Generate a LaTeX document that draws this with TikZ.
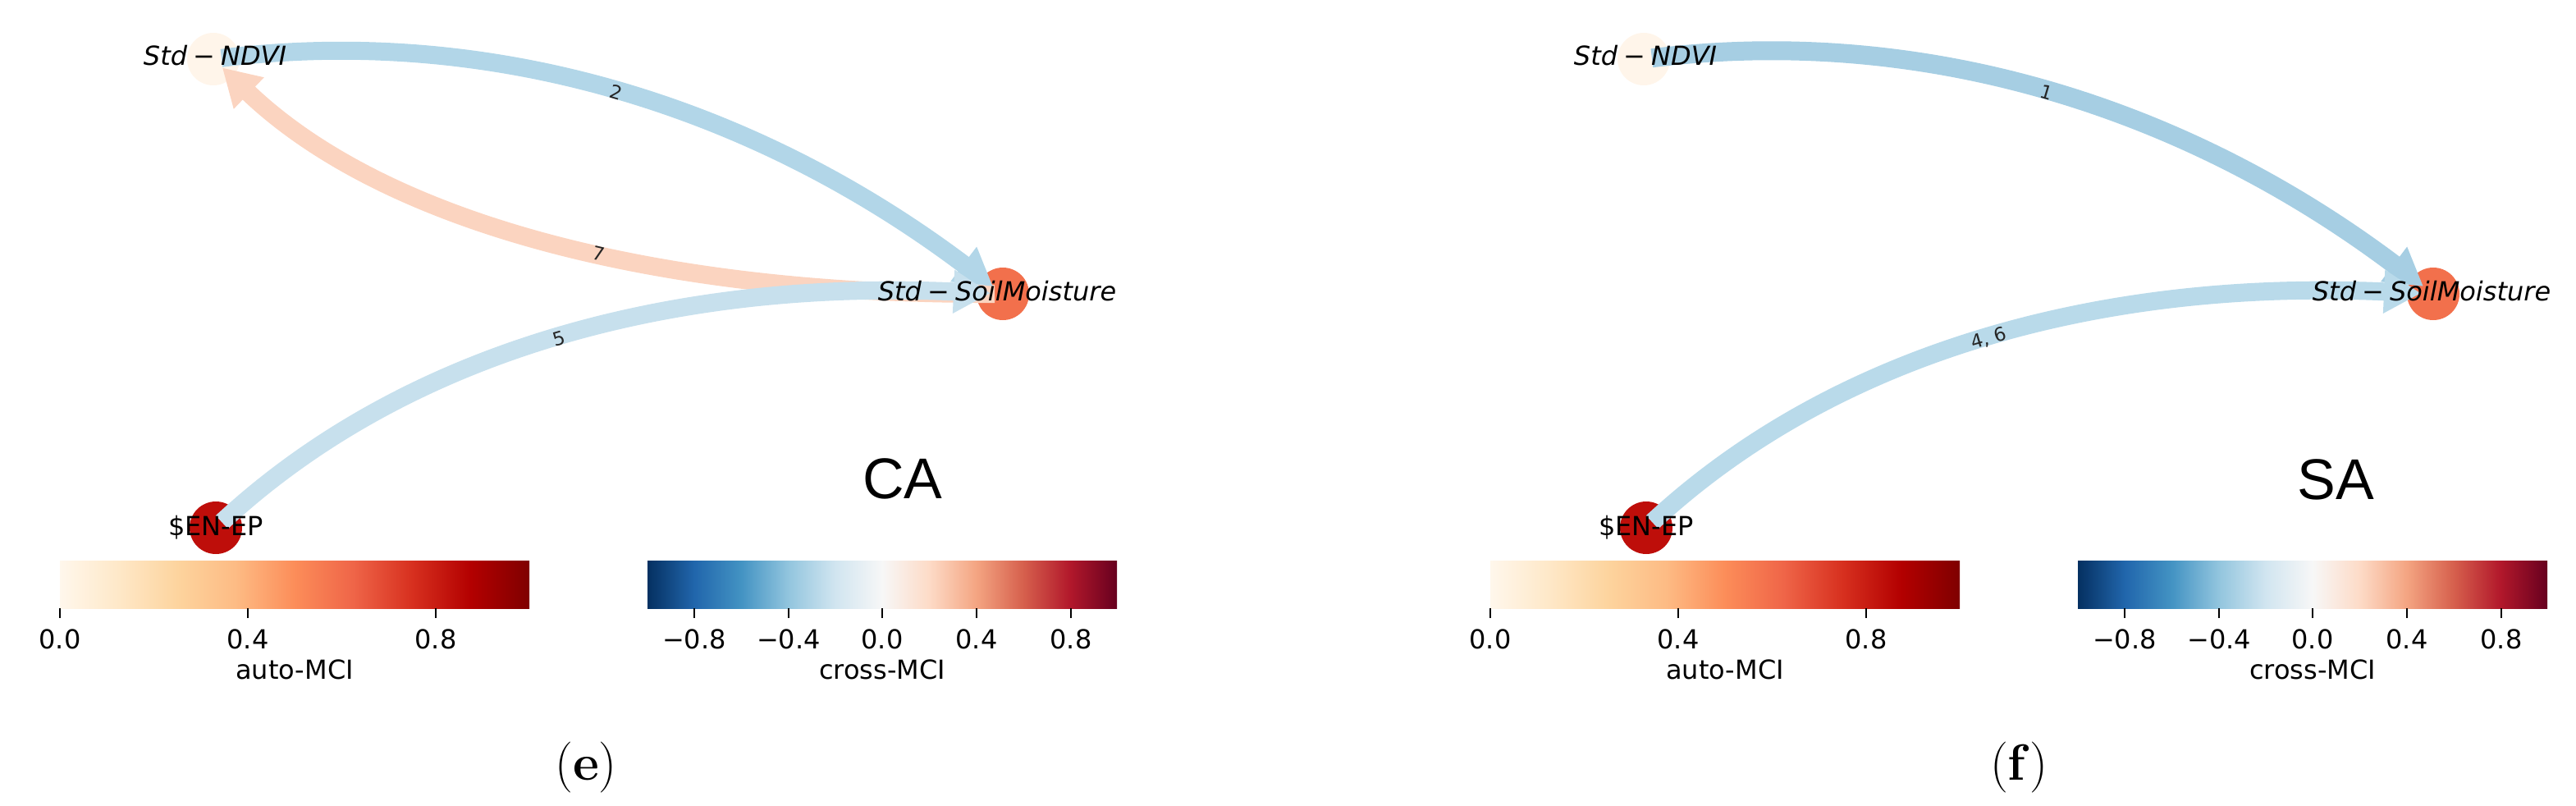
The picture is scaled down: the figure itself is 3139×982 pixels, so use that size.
\documentclass[tikz,border=0pt]{standalone}
\usepackage{fontspec}
\newfontfamily\dv{DejaVu Sans}
\newfontfamily\ars{Liberation Sans}
\usetikzlibrary{arrows.meta}
% OrRd
\definecolor{or0}{HTML}{FFF7EC}\definecolor{or1}{HTML}{FEE8C8}\definecolor{or2}{HTML}{FDD49E}
\definecolor{or3}{HTML}{FDBB84}\definecolor{or4}{HTML}{FC8D59}\definecolor{or5}{HTML}{EF6548}
\definecolor{or6}{HTML}{D7301F}\definecolor{or7}{HTML}{B30000}\definecolor{or8}{HTML}{7F0000}
% RdBu_r
\definecolor{rb0}{HTML}{053061}\definecolor{rb1}{HTML}{2166AC}\definecolor{rb2}{HTML}{4393C3}
\definecolor{rb3}{HTML}{92C5DE}\definecolor{rb4}{HTML}{D1E5F0}\definecolor{rb5}{HTML}{F7F7F7}
\definecolor{rb6}{HTML}{FDDBC7}\definecolor{rb7}{HTML}{F4A582}\definecolor{rb8}{HTML}{D6604D}
\definecolor{rb9}{HTML}{B2182B}\definecolor{rb10}{HTML}{67001F}
% nodes and edges
\definecolor{cndvi}{RGB}{255,245,234}
\definecolor{csoil}{RGB}{242,112,76}
\definecolor{cenep}{RGB}{190,14,10}
\definecolor{eblueA}{RGB}{178,214,232}
\definecolor{esalm}{RGB}{251,212,192}
\definecolor{eblueB}{RGB}{199,224,237}
\definecolor{eblueC}{RGB}{166,206,227}
\definecolor{eblueD}{RGB}{185,218,234}
\pgfdeclarehorizontalshading{orrd}{100bp}{color(0bp)=(or0); color(25bp)=(or0); color(31.25bp)=(or1); color(37.5bp)=(or2); color(43.75bp)=(or3); color(50bp)=(or4); color(56.25bp)=(or5); color(62.5bp)=(or6); color(68.75bp)=(or7); color(75bp)=(or8); color(100bp)=(or8)}
\pgfdeclarehorizontalshading{rdbur}{100bp}{color(0bp)=(rb0); color(25bp)=(rb0); color(30bp)=(rb1); color(35bp)=(rb2); color(40bp)=(rb3); color(45bp)=(rb4); color(50bp)=(rb5); color(55bp)=(rb6); color(60bp)=(rb7); color(65bp)=(rb8); color(70bp)=(rb9); color(75bp)=(rb10); color(100bp)=(rb10)}
\tikzset{
  var/.style={circle, minimum size=64pt, inner sep=0pt, draw=none},
  vlabel/.style={font=\dv\fontsize{32}{36}\selectfont, anchor=base, inner sep=0pt},
  link/.style={line width=22pt, -{Triangle[width=50pt,length=45pt]}, shorten >=15pt, shorten <=10pt},
  elabel/.style={font=\dv\fontsize{23}{25}\selectfont, text=black!85, sloped, inner sep=0pt},
  tickmark/.style={line width=2.5pt, black},
  ticklab/.style={font=\dv\fontsize{32}{36}\selectfont, anchor=base, inner sep=0pt},
  region/.style={font=\ars\fontsize{70}{80}\selectfont, anchor=base, inner sep=0pt},
  caption/.style={font=\fontsize{62}{70}\selectfont, inner sep=0pt},
}
\newcommand{\stdlab}[1]{\textit{Std}\hspace{0.22em}\textup{−}\hspace{0.22em}\textit{#1}}
\begin{document}
\begin{tikzpicture}[x=1pt, y=-1pt]
\useasboundingbox (0,0) rectangle (3139,982);
% ================= panel (e) =================
\node[var, fill=cndvi] (ndviL) at (260,72) {};
\node[var, fill=csoil] (soilL) at (1222,358) {};
\node[var, fill=cenep] (enepL) at (263,643) {};
\draw[link, esalm] (soilL.center) .. controls (780.7,359.3) and (460,264) .. node[elabel, pos=0.42] {7} (ndviL.center);
\draw[link, eblueA] (ndviL.center) .. controls (593.3,30.7) and (914,126) .. node[elabel, pos=0.5] {2} (soilL.center);
\draw[link, eblueB] (enepL.center) .. controls (487.7,434.3) and (807.3,339.3) .. node[elabel, pos=0.51] {5} (soilL.center);
\node[vlabel] (ndviLt) at (262,80) {\stdlab{NDVI}};
\node[vlabel] (soilLt) at (1215,366) {\stdlab{SoilMoisture}};
\node[vlabel] (enepLt) at (263,652) {\$EN-EP};
\node[region] (caL) at (1100,607) {CA};
% colorbars
\shade[shading=orrd] (73,683) rectangle (645,741);
\shade[shading=rdbur] (789,683) rectangle (1361,741);
\foreach \xx/\lab in {73/0.0, 302/0.4, 531/0.8} {
  \draw[tickmark] (\xx,741) -- (\xx,753);
  \node[ticklab] at (\xx,790) {\lab};
}
\foreach \xx/\lab in {846/−0.8, 961/−0.4, 1075/0.0, 1190/0.4, 1305/0.8} {
  \draw[tickmark] (\xx,741) -- (\xx,753);
  \node[ticklab] at (\xx,790) {\lab};
}
\node[ticklab] (autoL) at (359,827) {auto-MCI};
\node[ticklab] (crossL) at (1075,827) {cross-MCI};
\node[caption] (capE) at (714,935) {(\textbf{e})};
% ================= panel (f) =================
\begin{scope}[xshift=1743pt]
\node[var, fill=cndvi] (ndviR) at (260,72) {};
\node[var, fill=csoil] (soilR) at (1222,358) {};
\node[var, fill=cenep] (enepR) at (263,643) {};
\draw[link, eblueC, line width=23pt] (ndviR.center) .. controls (593.3,30.7) and (914,126) .. node[elabel, pos=0.5] {1} (soilR.center);
\draw[link, eblueD] (enepR.center) .. controls (487.7,434.3) and (807.3,339.3) .. node[elabel, pos=0.51] {4, 6} (soilR.center);
\node[vlabel] (ndviRt) at (262,80) {\stdlab{NDVI}};
\node[vlabel] (soilRt) at (1220,366) {\stdlab{SoilMoisture}};
\node[vlabel] (enepRt) at (263,652) {\$EN-EP};
\node[region] (saR) at (1103,608) {SA};
\shade[shading=orrd] (73,683) rectangle (645,741);
\shade[shading=rdbur] (789,683) rectangle (1361,741);
\foreach \xx/\lab in {73/0.0, 302/0.4, 531/0.8} {
  \draw[tickmark] (\xx,741) -- (\xx,753);
  \node[ticklab] at (\xx,790) {\lab};
}
\foreach \xx/\lab in {846/−0.8, 961/−0.4, 1075/0.0, 1190/0.4, 1305/0.8} {
  \draw[tickmark] (\xx,741) -- (\xx,753);
  \node[ticklab] at (\xx,790) {\lab};
}
\node[ticklab] (autoR) at (359,827) {auto-MCI};
\node[ticklab] (crossR) at (1075,827) {cross-MCI};
\node[caption] (capF) at (717,935) {(\textbf{f})};
\end{scope}
\end{tikzpicture}
\end{document}
